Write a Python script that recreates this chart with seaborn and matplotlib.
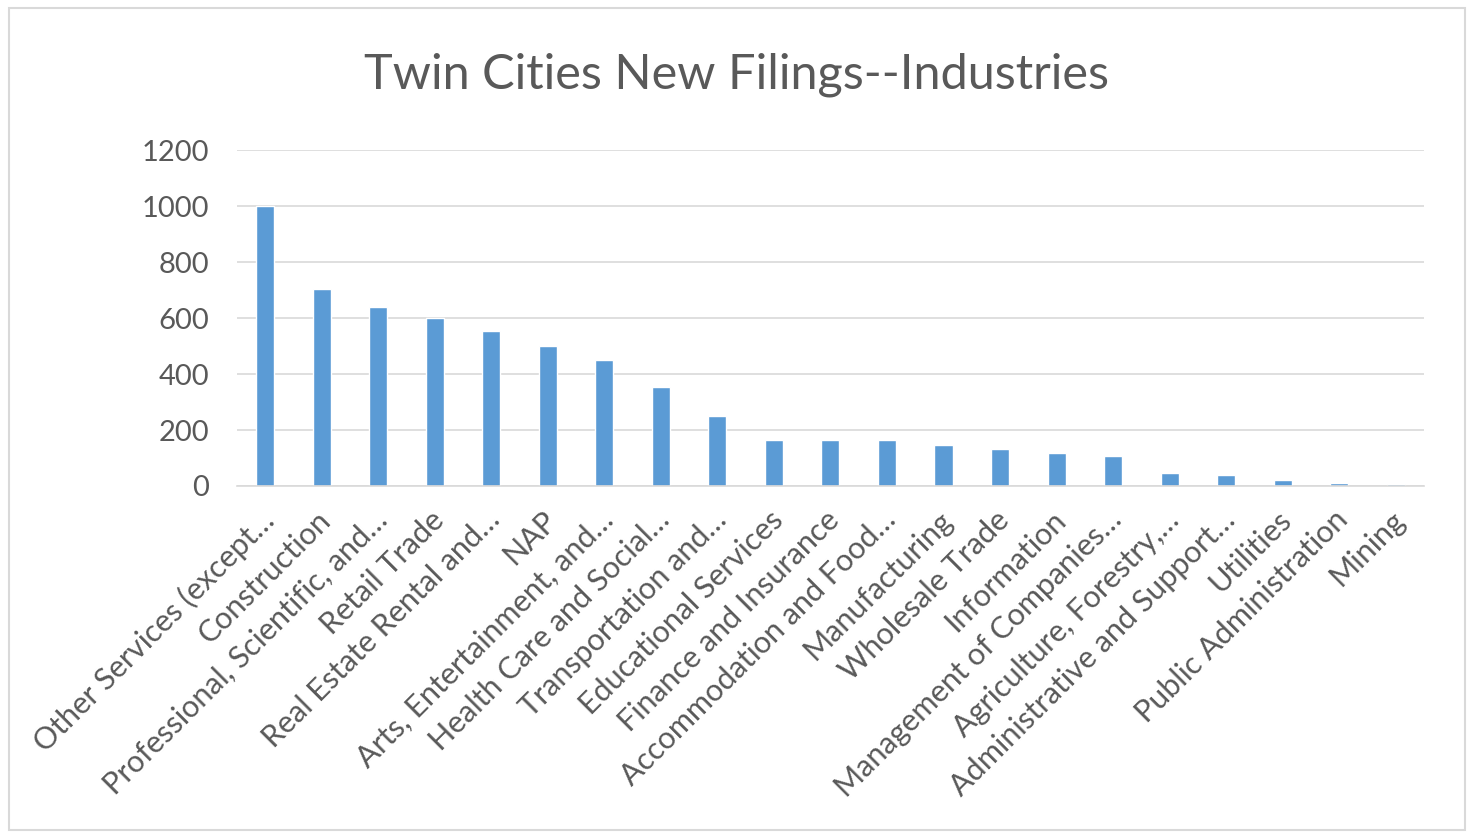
import pandas as pd
import matplotlib.pyplot as plt
import matplotlib.patches as mpatches
import matplotlib.transforms as mtransforms
import seaborn as sns

sns.set_style("white")
plt.rcParams["font.family"] = ["Lato", "DejaVu Sans"]

# Data

industries = [
    "Other Services (except…",
    "Construction",
    "Professional, Scientific, and…",
    "Retail Trade",
    "Real Estate Rental and…",
    "NAP",
    "Arts, Entertainment, and…",
    "Health Care and Social…",
    "Transportation and…",
    "Educational Services",
    "Finance and Insurance",
    "Accommodation and Food…",
    "Manufacturing",
    "Wholesale Trade",
    "Information",
    "Management of Companies…",
    "Agriculture, Forestry,…",
    "Administrative and Support…",
    "Utilities",
    "Public Administration",
    "Mining",
]
filings = [1000, 705, 639, 600, 554, 500, 449, 355, 250, 166, 166, 166,
           145, 132, 119, 106, 48, 40, 20, 9, 8]

df = pd.DataFrame({"Industry": industries, "Filings": filings})

#%%

fig = plt.figure(figsize=(14.74, 8.35), dpi=100)
ax = fig.add_axes([0.1607, 0.418, 0.8054, 0.402])

sns.barplot(data=df, x="Industry", y="Filings", color="#5b9bd5",
            saturation=1, width=0.32, ax=ax)

ax.set_ylim(0, 1200)
ax.set_yticks(range(0, 1201, 200))
ax.yaxis.grid(True, color="#d9d9d9", linewidth=1.2)
ax.set_axisbelow(True)
for side in ["left", "right", "top"]:
    ax.spines[side].set_visible(False)
ax.spines["bottom"].set_color("#d9d9d9")
ax.spines["bottom"].set_linewidth(1.2)

ax.set_xlabel("")
ax.set_ylabel("")
ax.tick_params(axis="both", length=0, labelcolor="#595959")
ax.tick_params(axis="y", labelsize=21, pad=20)
ax.tick_params(axis="x", labelsize=22, pad=14)

# rotate labels, anchored at their upper right corner like Excel does
shift = mtransforms.ScaledTranslation(-4 / 72, 0, fig.dpi_scale_trans)
for lbl in ax.get_xticklabels():
    lbl.set_rotation(45)
    lbl.set_ha("right")
    lbl.set_va("top")
    lbl.set_rotation_mode("anchor")
    lbl.set_transform(lbl.get_transform() + shift)

fig.text(0.5, 0.91, "Twin Cities New Filings--Industries", fontsize=35,
         color="#595959", ha="center", va="center")

# chart border
fig.patches.append(mpatches.Rectangle((0.006, 0.006), 0.988, 0.984,
                                      transform=fig.transFigure, fill=False,
                                      edgecolor="#d9d9d9", linewidth=1.5))

fig.savefig("out.png")
